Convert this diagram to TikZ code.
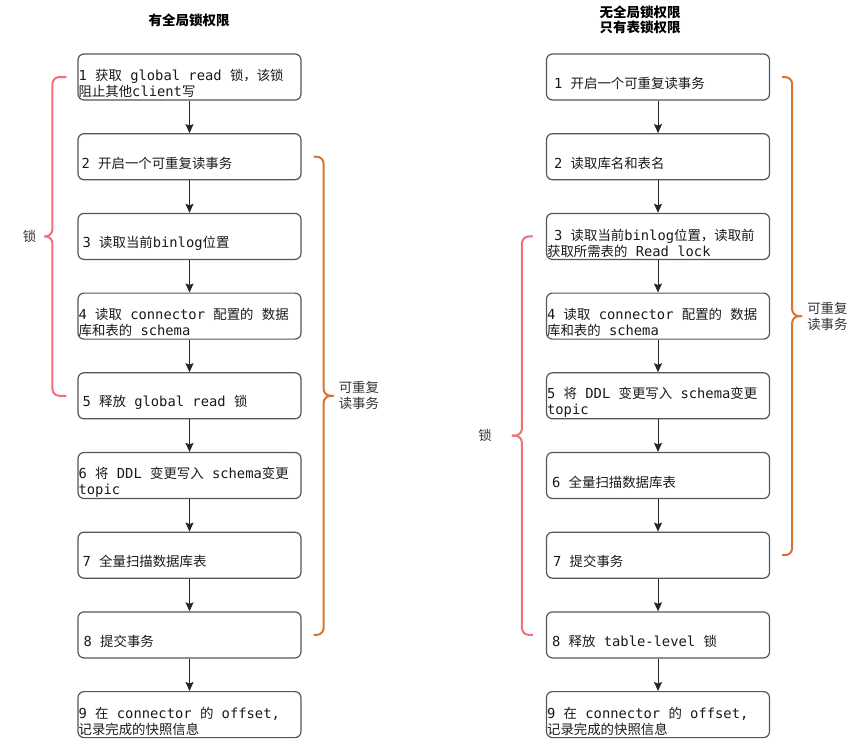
\documentclass[tikz,border=0pt]{standalone}
\usepackage{fontspec}
\setmonofont{DejaVu Sans Mono}
\newfontfamily\cjk{Noto Sans CJK SC}
\usetikzlibrary{positioning, arrows.meta, calc}

\definecolor{boxgray}{HTML}{555555}
\definecolor{lockred}{HTML}{F0707A}
\definecolor{txorange}{HTML}{D9732F}

\newcommand\zh[1]{{\cjk\fontsize{13.4}{16}\selectfont #1}}
\newcommand\steptextfont{\ttfamily\fontsize{13.8}{16}\selectfont}

\tikzset{
    stepbox/.style={draw=boxgray, line width=1.2pt, rounded corners=6pt,
        minimum width=223pt, minimum height=46pt, inner sep=0pt},
    steptext/.style={anchor=west, inner sep=0pt, align=left,
        font=\steptextfont, text=black!90},
    flowarrow/.style={-{Stealth[length=9pt, width=8pt, inset=1.5pt]},
        line width=1pt, draw=black!85},
    lockbrace/.style={draw=lockred, line width=2pt, rounded corners=7pt},
    txbrace/.style={draw=txorange, line width=2pt, rounded corners=7pt},
    bracelabel/.style={inner sep=0pt, align=left, text=black!80,
        font=\cjk\fontsize{13.4}{16}\selectfont},
    titletext/.style={inner sep=0pt, align=center,
        font=\cjk\bfseries\fontsize{13.5}{14.5}\selectfont}
}

\begin{document}
\begin{tikzpicture}[x=1pt, y=-1pt, node distance=32.5pt]
\useasboundingbox (0,0) rectangle (861,755);

% titles
\node[titletext] (ltitle) at (189,20) {有全局锁权限};
\node[titletext] (rtitle) at (640,20) {无全局锁权限\\只有表锁权限};

% left column: with global lock
\node[stepbox] (l1) at (189.5,77) {};
\node[stepbox, below=of l1] (l2) {};
\node[stepbox, below=of l2] (l3) {};
\node[stepbox, below=of l3] (l4) {};
\node[stepbox, below=of l4] (l5) {};
\node[stepbox, below=of l5] (l6) {};
\node[stepbox, below=of l6] (l7) {};
\node[stepbox, below=of l7] (l8) {};
\node[stepbox, below=of l8] (l9) {};

\node[steptext] (l1t) at ([xshift=1pt, yshift=-6.5pt]l1.west) {1 \zh{获取} global read \zh{锁，该锁}\\\zh{阻止其他}client\zh{写}};
\node[steptext] (l2t) at ([xshift=4pt, yshift=-6.5pt]l2.west) {2 \zh{开启一个可重复读事务}};
\node[steptext] (l3t) at ([xshift=5pt, yshift=-6.5pt]l3.west) {3 \zh{读取当前}binlog\zh{位置}};
\node[steptext] (l4t) at ([xshift=1pt, yshift=-6.5pt]l4.west) {4 \zh{读取} connector \zh{配置的} \zh{数据}\\\zh{库和表的} schema};
\node[steptext] (l5t) at ([xshift=5pt, yshift=-6.5pt]l5.west) {5 \zh{释放} global read \zh{锁}};
\node[steptext] (l6t) at ([xshift=1pt, yshift=-6.5pt]l6.west) {6 \zh{将} DDL \zh{变更写入} schema\zh{变更}\\topic};
\node[steptext] (l7t) at ([xshift=5pt, yshift=-6.5pt]l7.west) {7 \zh{全量扫描数据库表}};
\node[steptext] (l8t) at ([xshift=6pt, yshift=-6.5pt]l8.west) {8 \zh{提交事务}};
\node[steptext] (l9t) at ([xshift=1pt, yshift=-6.5pt]l9.west) {9 \zh{在} connector \zh{的} offset,\\\zh{记录完成的快照信息}};

% right column: table locks only
\node[stepbox] (r1) at (658,77) {};
\node[stepbox, below=of r1] (r2) {};
\node[stepbox, below=of r2] (r3) {};
\node[stepbox, below=of r3] (r4) {};
\node[stepbox, below=of r4] (r5) {};
\node[stepbox, below=of r5] (r6) {};
\node[stepbox, below=of r6] (r7) {};
\node[stepbox, below=of r7] (r8) {};
\node[stepbox, below=of r8] (r9) {};

\node[steptext] (r1t) at ([xshift=8pt, yshift=-6.5pt]r1.west) {1 \zh{开启一个可重复读事务}};
\node[steptext] (r2t) at ([xshift=8pt, yshift=-6.5pt]r2.west) {2 \zh{读取库名和表名}};
\node[steptext] (r3t) at ([xshift=1pt, yshift=-6.5pt]r3.west) {\hspace{7pt}3 \zh{读取当前}binlog\zh{位置，读取前}\\\zh{获取所需表的} Read lock};
\node[steptext] (r4t) at ([xshift=1pt, yshift=-6.5pt]r4.west) {4 \zh{读取} connector \zh{配置的} \zh{数据}\\\zh{库和表的} schema};
\node[steptext] (r5t) at ([xshift=1pt, yshift=-6.5pt]r5.west) {5 \zh{将} DDL \zh{变更写入} schema\zh{变更}\\topic};
\node[steptext] (r6t) at ([xshift=6pt, yshift=-6.5pt]r6.west) {6 \zh{全量扫描数据库表}};
\node[steptext] (r7t) at ([xshift=7pt, yshift=-6.5pt]r7.west) {7 \zh{提交事务}};
\node[steptext] (r8t) at ([xshift=6pt, yshift=-6.5pt]r8.west) {8 \zh{释放} table-level \zh{锁}};
\node[steptext] (r9t) at ([xshift=1pt, yshift=-6.5pt]r9.west) {9 \zh{在} connector \zh{的} offset,\\\zh{记录完成的快照信息}};

% arrows
\foreach \a/\b in {1/2, 2/3, 3/4, 4/5, 5/6, 6/7, 7/8, 8/9} {
    \draw[flowarrow] (l\a) -- (l\b);
    \draw[flowarrow] (r\a) -- (r\b);
}

% left lock brace
\coordinate (llockTop) at ([xshift=-11pt]l1.west);
\coordinate (llockBot) at ([xshift=-11pt]l5.west);
\coordinate (llockMid) at ($(llockTop)!0.5!(llockBot)+(-22,0)$);
\draw[lockbrace] (llockTop) -- ++(-14,0) |- (llockMid);
\draw[lockbrace] (llockMid) -| ([xshift=-14pt]llockBot) -- (llockBot);
\node[bracelabel, left=8pt of llockMid] (llockL) {锁};

% left transaction brace
\coordinate (ltxTop) at ([xshift=12pt]l2.east);
\coordinate (ltxBot) at ([xshift=12pt]l8.east);
\coordinate (ltxMid) at ($(ltxTop)!0.5!(ltxBot)+(20,0)$);
\draw[txbrace] (ltxTop) -- ++(10,0) |- (ltxMid);
\draw[txbrace] (ltxMid) -| ([xshift=10pt]ltxBot) -- (ltxBot);
\node[bracelabel, right=5pt of ltxMid] (ltxL) {可重复\\读事务};

% right transaction brace
\coordinate (rtxTop) at ([xshift=12pt]r1.east);
\coordinate (rtxBot) at ([xshift=12pt]r7.east);
\coordinate (rtxMid) at ($(rtxTop)!0.5!(rtxBot)+(20,0)$);
\draw[txbrace] (rtxTop) -- ++(10,0) |- (rtxMid);
\draw[txbrace] (rtxMid) -| ([xshift=10pt]rtxBot) -- (rtxBot);
\node[bracelabel, right=5pt of rtxMid] (rtxL) {可重复\\读事务};

% right lock brace
\coordinate (rlockTop) at ([xshift=-13pt]r3.west);
\coordinate (rlockBot) at ([xshift=-13pt]r8.west);
\coordinate (rlockMid) at ($(rlockTop)!0.5!(rlockBot)+(-21,0)$);
\draw[lockbrace] (rlockTop) -- ++(-11,0) |- (rlockMid);
\draw[lockbrace] (rlockMid) -| ([xshift=-11pt]rlockBot) -- (rlockBot);
\node[bracelabel, left=20pt of rlockMid] (rlockL) {锁};

\end{tikzpicture}
\end{document}
